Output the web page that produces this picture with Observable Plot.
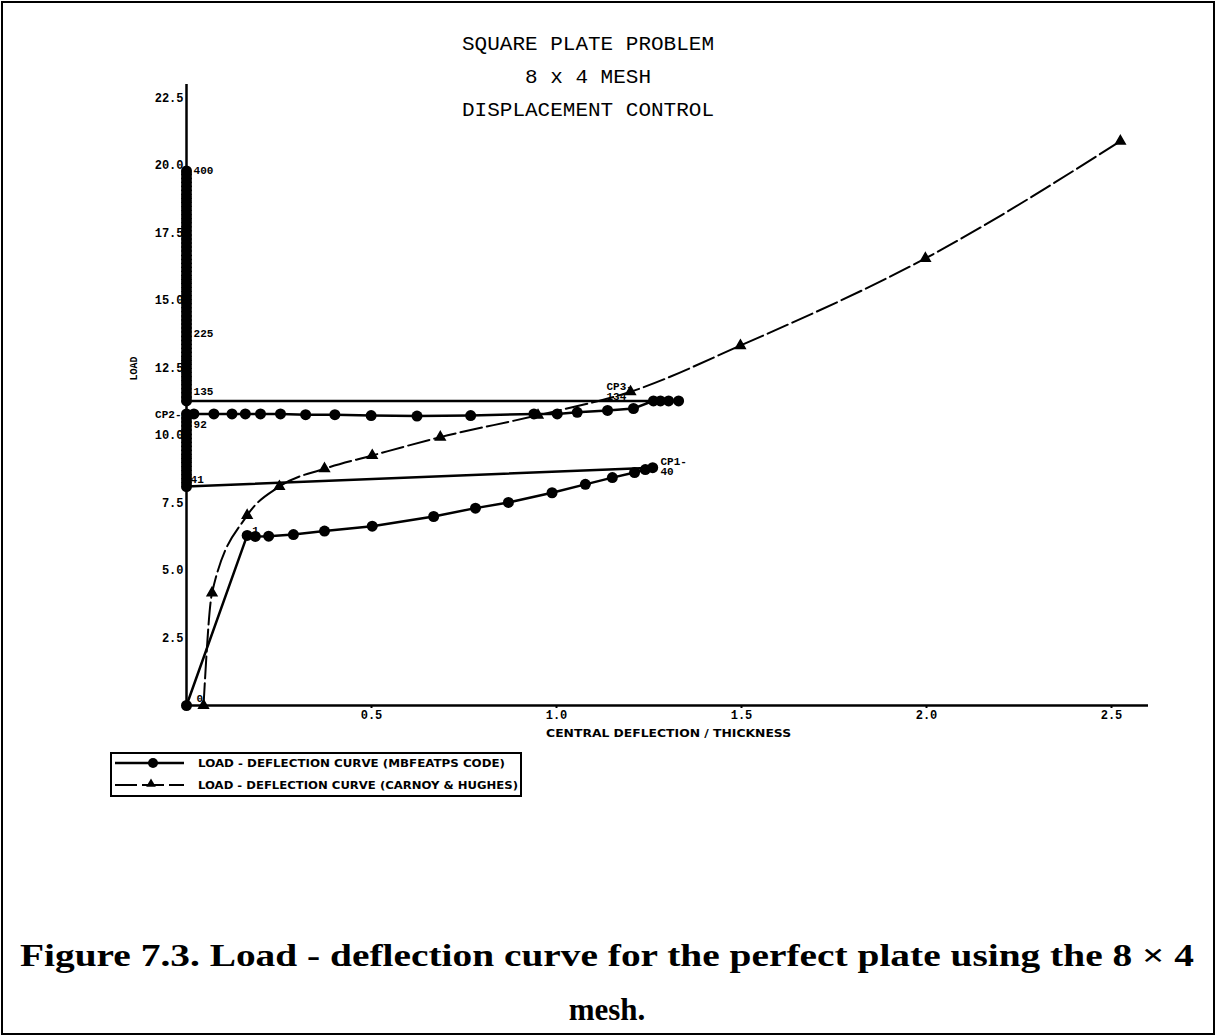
<!DOCTYPE html>
<html><head><meta charset="utf-8">
<script src="https://cdn.jsdelivr.net/npm/d3@7"></script>
<script src="https://cdn.jsdelivr.net/npm/@observablehq/plot@0.6"></script>
<style>
html,body{margin:0;padding:0;background:#fff;}
#page{position:relative;width:1216px;height:1036px;overflow:hidden;background:#fff;}
#frame{position:absolute;left:1px;top:1px;width:1210px;height:1030px;border:2px solid #000;}
#title{position:absolute;left:338px;width:500px;top:28px;text-align:center;font-family:"Liberation Mono",monospace;font-size:21px;line-height:33px;color:#000;}
#chart{position:absolute;left:0;top:0;}
#legend{position:absolute;left:0;top:0;}
#caption{position:absolute;left:0;top:900px;}
</style>
</head><body>
<div id="page">
  <div id="frame"></div>
  <div id="chart"></div>
  <div id="title">SQUARE PLATE PROBLEM<br>8 x 4 MESH<br>DISPLACEMENT CONTROL</div>
  <svg id="legend" width="1216" height="820"></svg>
  <svg id="caption" width="1216" height="136"></svg>
</div>
<script>
// ---- data ----
// MBFEATPS code (circles), path in four segments
// 1) loading branch: origin -> CP1 (step 40)
const branch1X = [0, 0.164, 0.186, 0.222, 0.289, 0.373, 0.502, 0.668, 0.781, 0.870, 0.988, 1.078, 1.151, 1.211, 1.240, 1.260];
const branch1Y = [0, 6.30, 6.26, 6.27, 6.33, 6.46, 6.64, 7.00, 7.31, 7.52, 7.88, 8.19, 8.44, 8.63, 8.74, 8.81];
// 2) steps 41..92 on the load axis (deflection 0)
const climb1Y = [8.11, 8.25, 8.40, 8.55, 8.70, 8.85, 9.00, 9.15, 9.30, 9.45, 9.60, 9.75, 9.90, 10.05, 10.20, 10.35, 10.50, 10.65, 10.80];
// 3) CP2 (step 92) -> CP3 (step 134)
const rowX = [0.020, 0.074, 0.123, 0.159, 0.200, 0.254, 0.322, 0.401, 0.499, 0.623, 0.768, 0.939, 1.002, 1.056, 1.138, 1.208, 1.262, 1.281, 1.303, 1.330];
const rowY = [10.80, 10.80, 10.80, 10.80, 10.80, 10.80, 10.77, 10.77, 10.74, 10.72, 10.74, 10.80, 10.80, 10.86, 10.93, 11.00, 11.28, 11.28, 11.28, 11.28];
// 4) steps 135..400 on the load axis (deflection 0)
const climb2Y = [11.28, 11.43, 11.58, 11.73, 11.88, 12.03, 12.18, 12.33, 12.48, 12.63, 12.78, 12.93, 13.08, 13.23, 13.38, 13.53, 13.68, 13.83, 13.98, 14.13,
  14.28, 14.43, 14.58, 14.73, 14.88, 15.03, 15.18, 15.33, 15.48, 15.63, 15.78, 15.93, 16.08, 16.23, 16.38, 16.53, 16.68, 16.83, 16.98, 17.13,
  17.28, 17.43, 17.58, 17.73, 17.88, 18.03, 18.18, 18.33, 18.48, 18.63, 18.78, 18.93, 19.08, 19.23, 19.38, 19.53, 19.68, 19.80];
// Carnoy & Hughes (triangles, dashed)
const chX = [0.046, 0.069, 0.164, 0.251, 0.373, 0.502, 0.686, 0.950, 1.200, 1.497, 1.997, 2.524];
const chY = [0, 4.17, 7.04, 8.11, 8.77, 9.26, 9.94, 10.75, 11.62, 13.33, 16.56, 20.90];
// axis ticks
const xTickValues = [0.5, 1.0, 1.5, 2.0, 2.5];
const xTickLabels = ["0.5", "1.0", "1.5", "2.0", "2.5"];
const yTickValues = [2.5, 5, 7.5, 10, 12.5, 15, 17.5, 20, 22.5];
const yTickLabels = ["2.5", "5.0", "7.5", "10.0", "12.5", "15.0", "17.5", "20.0", "22.5"];
// step annotations
const labelText = ["0", "1", "41", "92", "135", "225", "400", "CP1-", "40", "CP3-", "134"];
const labelX = [0.027, 0.178, 0.011, 0.019, 0.019, 0.019, 0.019, 1.281, 1.281, 1.135, 1.135];
const labelY = [0.26, 6.5, 8.37, 10.4, 11.63, 13.78, 19.8, 9.04, 8.67, 11.81, 11.44];
const leftLabelText = ["CP2-"];
const leftLabelX = [0];
const leftLabelY = [10.78];
const legendLabels = ["LOAD - DEFLECTION CURVE (MBFEATPS CODE)", "LOAD - DEFLECTION CURVE (CARNOY & HUGHES)"];
const captionLines = ["Figure 7.3. Load - deflection curve for the perfect plate using the 8 \u00d7 4", "mesh."];

// ---- build tables ----
const mb = [
  ...branch1X.map((x, i) => ({x, y: branch1Y[i]})),
  ...climb1Y.map(y => ({x: 0, y})),
  ...rowX.map((x, i) => ({x, y: rowY[i]})),
  ...climb2Y.map(y => ({x: 0, y}))
];
const ch = chX.map((x, i) => ({x, y: chY[i]}));
const labels = labelText.map((t, i) => ({t, x: labelX[i], y: labelY[i]}));
const leftLabels = leftLabelText.map((t, i) => ({t, x: leftLabelX[i], y: leftLabelY[i]}));

const plot = Plot.plot({
  width: 1216, height: 750,
  marginLeft: 186, marginRight: 68, marginTop: 84, marginBottom: 45,
  x: {domain: [0, 2.6]},
  y: {domain: [0, 23]},
  style: {background: "transparent", color: "#000", fontFamily: "Liberation Mono, monospace", fontSize: "12px", fontWeight: "bold"},
  marks: [
    Plot.axisX({ticks: xTickValues, tickFormat: d => xTickLabels[xTickValues.indexOf(d)], tickSize: 3, tickPadding: 2, fontSize: 12, fontWeight: "bold", label: null, strokeWidth: 2}),
    Plot.axisY({ticks: yTickValues, tickFormat: d => yTickLabels[yTickValues.indexOf(d)], tickSize: 0, tickPadding: 3, fontSize: 12, fontWeight: "bold", label: null}),
    Plot.ruleY([0], {x1: 0, x2: 2.6, stroke: "#000", strokeWidth: 2.5}),
    Plot.ruleX([0], {y1: 0, y2: 23, stroke: "#000", strokeWidth: 2.5}),
    Plot.line(ch, {x: "x", y: "y", stroke: "#000", strokeWidth: 2, strokeDasharray: "22,5", curve: "monotone-x"}),
    Plot.dot(ch, {x: "x", y: "y", symbol: "triangle", r: 3.6, fill: "#000", stroke: "#000"}),
    Plot.line(mb, {x: "x", y: "y", stroke: "#000", strokeWidth: 2.5}),
    Plot.dot(mb, {x: "x", y: "y", r: 5.5, fill: "#000", stroke: "none"}),
    Plot.text(labels, {x: "x", y: "y", text: "t", textAnchor: "start", fontSize: 11, fontWeight: "bold", fill: "#000"}),
    Plot.text(leftLabels, {x: "x", y: "y", text: "t", textAnchor: "end", dx: -5, fontSize: 11, fontWeight: "bold", fill: "#000"}),
    Plot.text(["LOAD"], {x: -0.143, y: 12.48, text: d => d, rotate: -90, fontSize: 10, fontWeight: "bold", fill: "#000"}),
    Plot.text(["CENTRAL DEFLECTION / THICKNESS"], {x: 1.303, y: -1.04, text: d => d, fontSize: 10, fontWeight: "bold", fill: "#000", fontFamily: "DejaVu Sans"})
  ]
});
document.getElementById("chart").appendChild(plot);
d3.select(plot).selectAll("text").filter(function() { return this.textContent === "CENTRAL DEFLECTION / THICKNESS"; })
  .attr("textLength", 245).attr("lengthAdjust", "spacingAndGlyphs");

// ---- legend ----
const lg = d3.select("#legend");
lg.append("rect").attr("x", 111).attr("y", 753).attr("width", 410).attr("height", 43)
  .attr("fill", "none").attr("stroke", "#000").attr("stroke-width", 2);
lg.append("line").attr("x1", 115).attr("x2", 184).attr("y1", 763).attr("y2", 763).attr("stroke", "#000").attr("stroke-width", 2.5);
lg.append("circle").attr("cx", 153).attr("cy", 763).attr("r", 5).attr("fill", "#000");
lg.append("line").attr("x1", 115).attr("x2", 184).attr("y1", 785).attr("y2", 785).attr("stroke", "#000").attr("stroke-width", 2).attr("stroke-dasharray", "22,5");
lg.append("path").attr("d", d3.symbol(d3.symbolTriangle, 40)()).attr("transform", "translate(151,784)").attr("fill", "#000");
legendLabels.forEach((t, i) => {
  lg.append("text").attr("x", 198).attr("y", i === 0 ? 767 : 789).text(t)
    .attr("font-family", "DejaVu Sans").attr("font-weight", "bold").attr("font-size", 11)
    .attr("textLength", i === 0 ? 307 : 320).attr("lengthAdjust", "spacingAndGlyphs");
});

// ---- caption ----
const cp = d3.select("#caption");
cp.append("text").attr("x", 20).attr("y", 66).text(captionLines[0])
  .attr("font-family", "Liberation Serif").attr("font-weight", "bold").attr("font-size", 31)
  .attr("textLength", 1174).attr("lengthAdjust", "spacingAndGlyphs");
cp.append("text").attr("x", 607).attr("y", 120).attr("text-anchor", "middle").text(captionLines[1])
  .attr("font-family", "Liberation Serif").attr("font-weight", "bold").attr("font-size", 31);
</script>
</body></html>
